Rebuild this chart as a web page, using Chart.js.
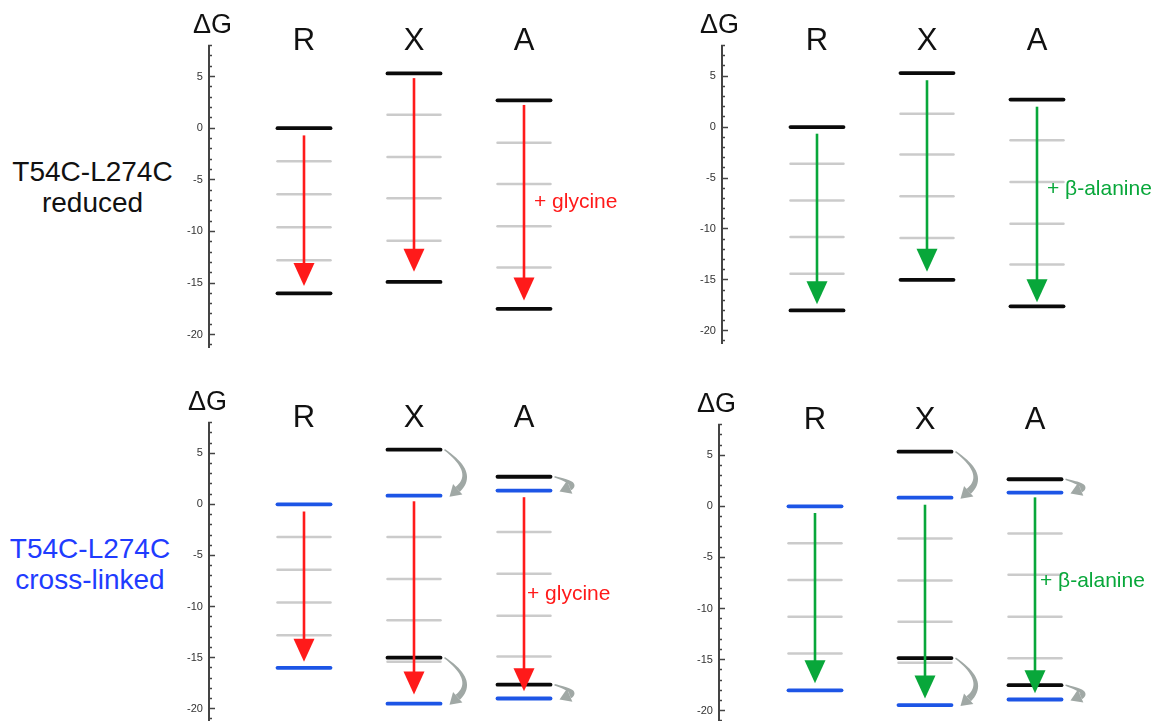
<!DOCTYPE html>
<html>
<head>
<meta charset="utf-8">
<script src="https://cdn.jsdelivr.net/npm/chart.js@4.4.1/dist/chart.umd.min.js"></script>
<style>
  html, body { margin: 0; padding: 0; background: #fff; overflow: hidden; }
  body { width: 1161px; height: 721px; position: relative; font-family: "Liberation Sans", Arial, sans-serif; }
  canvas { position: absolute; }
  .rowlabel { position: absolute; left: 0; font-size: 28px; line-height: 31px; text-align: center; white-space: nowrap; }
</style>
</head>
<body>
<div class="rowlabel" style="top:155.5px;width:185px;color:#111;">T54C-L274C<br>reduced</div>
<div class="rowlabel" style="top:533px;width:180px;color:#1f3cff;">T54C-L274C<br>cross-linked</div>
<canvas id="glyRed"></canvas>
<canvas id="alaRed"></canvas>
<canvas id="glyXl"></canvas>
<canvas id="alaXl"></canvas>
<script>
const states = ['R', 'X', 'A'];
const yTickLabels = [5, 0, -5, -10, -15, -20];
const yMin = -21.2;
const yMax = 8;

// glycine, reduced (black levels)
const glyRedTop = [0, 5.3, 2.7];
const glyRedBottom = [-16.0, -14.9, -17.5];
const glyRedGrey = [[-3.2, -6.4, -9.6, -12.8], [1.3, -2.8, -6.8, -10.9], [-1.4, -5.4, -9.5, -13.5]];
const glyRedArrowFrom = [-0.7, 4.85, 2.25];
const glyRedArrowTo = [-15.3, -13.9, -16.7];

// beta-alanine, reduced
const alaRedTop = [0, 5.3, 2.7];
const alaRedBottom = [-18.0, -15.0, -17.6];
const alaRedGrey = [[-3.6, -7.2, -10.8, -14.4], [1.3, -2.7, -6.8, -10.9], [-1.3, -5.4, -9.5, -13.5]];
const alaRedArrowFrom = [-0.65, 4.6, 2.0];
const alaRedArrowTo = [-17.4, -14.2, -17.2];

// glycine, cross-linked (black = reduced reference, blue = cross-linked)
const glyXlRefTop = [null, 5.35, 2.7];
const glyXlRefBottom = [null, -15.0, -17.65];
const glyXlTop = [0, 0.85, 1.35];
const glyXlBottom = [-16.0, -19.5, -19.0];
const glyXlGrey = [[-3.2, -6.4, -9.6, -12.8], [-3.2, -7.3, -11.35, -15.4], [-2.7, -6.8, -10.9, -14.9]];
const glyXlArrowFrom = [-0.7, 0.3, 0.7];
const glyXlArrowTo = [-15.4, -18.6, -18.3];

// beta-alanine, cross-linked
const alaXlRefTop = [null, 5.35, 2.65];
const alaXlRefBottom = [null, -14.85, -17.5];
const alaXlTop = [0, 0.85, 1.35];
const alaXlBottom = [-18.0, -19.45, -18.9];
const alaXlGrey = [[-3.6, -7.2, -10.8, -14.4], [-3.15, -7.25, -11.3, -15.3], [-2.66, -6.7, -10.8, -14.86]];
const alaXlArrowFrom = [-0.65, 0.16, 0.88];
const alaXlArrowTo = [-17.3, -18.8, -18.3];

const FONT = '"Liberation Sans", Arial, sans-serif';
const RED = '#ff1a1a';
const GREEN = '#08a73a';
const BLUE = '#1d55e6';
const BLACK = '#0a0a0a';
const GREY = '#cbcbcb';
const CURL = '#a0a8a5';
const HALF_BAR = 0.241;
const PX_PER_STATE = 110;
const AXIS_IN = 59; // canvas x of the y axis line

function levelSets(values, color, width) {
  const out = [];
  values.forEach((v, i) => {
    if (v === null) return;
    out.push({
      data: [{ x: i - HALF_BAR, y: v }, { x: i + HALF_BAR, y: v }],
      showLine: true, borderColor: color, borderWidth: width,
      borderCapStyle: 'round', pointRadius: 0, tension: 0
    });
  });
  return out;
}

function drawArrow(ctx, px, y0, y1, color) {
  ctx.strokeStyle = color;
  ctx.lineWidth = 2.6;
  ctx.beginPath();
  ctx.moveTo(px, y0);
  ctx.lineTo(px, y1 - 20);
  ctx.stroke();
  ctx.fillStyle = color;
  ctx.beginPath();
  ctx.moveTo(px - 10.5, y1 - 23);
  ctx.lineTo(px + 10.5, y1 - 23);
  ctx.lineTo(px, y1);
  ctx.closePath();
  ctx.fill();
}

// grey hook from the reduced level down to the cross-linked one
function drawCurl(ctx, x0, ya, yb) {
  const bulge = 10 + (yb - ya) * 0.13;
  const cx = x0 + 2 * bulge, cy = (ya + yb) / 2;
  const tipX = x0 + 5, tipY = yb + 1;
  let dx = tipX - cx, dy = tipY - cy;
  const len = Math.hypot(dx, dy);
  dx /= len; dy /= len;
  const headLen = 11, headHalf = 7;
  const ex = tipX - dx * headLen, ey = tipY - dy * headLen;
  const left = [], right = [];
  for (let k = 0; k <= 20; k++) {
    const t = k / 20;
    const px = (1 - t) * (1 - t) * x0 + 2 * (1 - t) * t * cx + t * t * ex;
    const py = (1 - t) * (1 - t) * ya + 2 * (1 - t) * t * cy + t * t * ey;
    const tx = 2 * (1 - t) * (cx - x0) + 2 * t * (ex - cx);
    const ty = 2 * (1 - t) * (cy - ya) + 2 * t * (ey - cy);
    const tl = Math.hypot(tx, ty) || 1;
    const w = 0.7 + 2.6 * t;
    left.push([px - ty / tl * w, py + tx / tl * w]);
    right.push([px + ty / tl * w, py - tx / tl * w]);
  }
  ctx.fillStyle = CURL;
  ctx.beginPath();
  left.forEach(([a, b], k) => k ? ctx.lineTo(a, b) : ctx.moveTo(a, b));
  right.reverse().forEach(([a, b]) => ctx.lineTo(a, b));
  ctx.closePath();
  ctx.fill();
  ctx.beginPath();
  ctx.moveTo(tipX, tipY);
  ctx.lineTo(ex - dy * headHalf, ey + dx * headHalf);
  ctx.lineTo(ex + dy * headHalf, ey - dx * headHalf);
  ctx.closePath();
  ctx.fill();
}

const energyArrows = {
  id: 'energyArrows',
  afterDatasetsDraw(chart, args, opts) {
    const { ctx, scales: { x, y } } = chart;
    ctx.save();
    (opts.shifts || []).forEach(s => {
      drawCurl(ctx, x.getPixelForValue(s.state + HALF_BAR) + 4,
        y.getPixelForValue(s.from), y.getPixelForValue(s.to));
    });
    opts.from.forEach((f, i) => {
      drawArrow(ctx, x.getPixelForValue(i), y.getPixelForValue(f), y.getPixelForValue(opts.to[i]), opts.color);
    });
    ctx.fillStyle = opts.color;
    ctx.font = '21px ' + FONT;
    ctx.textAlign = 'left';
    ctx.textBaseline = 'middle';
    ctx.fillText(opts.label, x.getPixelForValue(opts.labelState) + opts.labelDx, y.getPixelForValue(opts.labelValue));
    ctx.restore();
  }
};

function makePanel(id, p) {
  const canvas = document.getElementById(id);
  const areaTop = 45;
  const canvasTop = p.zeroY - yMax * p.ppu - areaTop;
  const canvasLeft = p.axisX - AXIS_IN;
  const height = Math.round(areaTop + (yMax - yMin) * p.ppu + 4);
  canvas.width = p.width;
  canvas.height = height;
  canvas.style.left = canvasLeft + 'px';
  canvas.style.top = canvasTop + 'px';
  const xMin = -p.rOffset / PX_PER_STATE;
  const xMax = xMin + (p.width - AXIS_IN) / PX_PER_STATE;

  const datasets = [];
  if (p.refTop) datasets.push(...levelSets(p.refTop, BLACK, 3.8), ...levelSets(p.refBottom, BLACK, 3.8));
  datasets.push(...levelSets(p.top, p.levelColor, 3.8), ...levelSets(p.bottom, p.levelColor, 3.8));
  p.grey.forEach((vals, i) => {
    vals.forEach(v => {
      const g = new Array(states.length).fill(null);
      g[i] = v;
      datasets.push(...levelSets(g, GREY, 2.5));
    });
  });

  const shifts = [];
  if (p.refTop) {
    p.refTop.forEach((v, i) => {
      if (v === null) return;
      shifts.push({ state: i, from: v, to: p.top[i] });
      shifts.push({ state: i, from: p.refBottom[i], to: p.bottom[i] });
    });
  }

  return new Chart(canvas, {
    type: 'scatter',
    data: { datasets },
    plugins: [energyArrows],
    options: {
      responsive: false,
      animation: false,
      events: [],
      layout: { padding: { left: AXIS_IN - p.titleOffset, top: 0, right: 0, bottom: 4 } },
      scales: {
        x: {
          type: 'linear', position: 'top', min: xMin, max: xMax, bounds: 'data',
          grid: { display: false, drawTicks: false },
          border: { display: false },
          afterBuildTicks: s => { s.ticks = states.map((_, i) => ({ value: i })); },
          afterFit: s => { s.height = 3.6; s.paddingLeft = 0; s.paddingRight = 0; },
          ticks: {
            callback: v => states[v], autoSkip: false, maxRotation: 0, mirror: true,
            font: { family: FONT, size: 31 }, color: '#111', padding: -22.3
          }
        },
        y: {
          type: 'linear', position: 'left', min: yMin, max: yMax, bounds: 'data',
          afterBuildTicks: s => {
            const t = [];
            for (let v = Math.ceil(yMin); v <= yMax; v++) t.push({ value: v });
            s.ticks = t;
          },
          afterFit: s => { s.width = p.titleOffset; s.paddingTop = 0; s.paddingBottom = 0; },
          grid: {
            drawOnChartArea: false, drawTicks: true, tickLength: -6,
            tickColor: '#444', tickWidth: 1.5,
            tickBorderDash: c => (c.tick && yTickLabels.includes(c.tick.value)) ? [] : [0, 3, 4, 20]
          },
          border: { display: true, color: '#444', width: 2 },
          ticks: {
            autoSkip: false, mirror: true, crossAlign: 'far', padding: -22, color: '#333',
            font: { family: FONT, size: 11 },
            callback: v => yTickLabels.includes(v) ? String(v) : ''
          }
        }
      },
      plugins: {
        legend: { display: false },
        tooltip: { enabled: false },
        title: {
          display: true, text: 'ΔG', align: 'start', color: '#111',
          font: { family: FONT, size: 27, weight: 'normal' },
          padding: { top: 9.6, bottom: 0 }
        },
        energyArrows: {
          from: p.arrowFrom, to: p.arrowTo, color: p.arrowColor, shifts,
          label: p.label, labelState: 2, labelValue: p.labelValue, labelDx: p.labelDx
        }
      }
    }
  });
}

makePanel('glyRed', {
  axisX: 209, zeroY: 127.7, ppu: 10.33, width: 510, rOffset: 95, titleOffset: 16,
  top: glyRedTop, bottom: glyRedBottom, levelColor: BLACK, grey: glyRedGrey,
  arrowFrom: glyRedArrowFrom, arrowTo: glyRedArrowTo, arrowColor: RED,
  label: '+ glycine', labelValue: -7.2, labelDx: 10
});
makePanel('alaRed', {
  axisX: 722, zeroY: 126.7, ppu: 10.2, width: 498, rOffset: 95, titleOffset: 22,
  top: alaRedTop, bottom: alaRedBottom, levelColor: BLACK, grey: alaRedGrey,
  arrowFrom: alaRedArrowFrom, arrowTo: alaRedArrowTo, arrowColor: GREEN,
  label: '+ β-alanine', labelValue: -6.1, labelDx: 10
});
makePanel('glyXl', {
  axisX: 209, zeroY: 504.3, ppu: 10.25, width: 510, rOffset: 95, titleOffset: 21,
  refTop: glyXlRefTop, refBottom: glyXlRefBottom,
  top: glyXlTop, bottom: glyXlBottom, levelColor: BLUE, grey: glyXlGrey,
  arrowFrom: glyXlArrowFrom, arrowTo: glyXlArrowTo, arrowColor: RED,
  label: '+ glycine', labelValue: -8.8, labelDx: 3
});
makePanel('alaXl', {
  axisX: 719, zeroY: 505.7, ppu: 10.25, width: 501, rOffset: 96, titleOffset: 22,
  refTop: alaXlRefTop, refBottom: alaXlRefBottom,
  top: alaXlTop, bottom: alaXlBottom, levelColor: BLUE, grey: alaXlGrey,
  arrowFrom: alaXlArrowFrom, arrowTo: alaXlArrowTo, arrowColor: GREEN,
  label: '+ β-alanine', labelValue: -7.3, labelDx: 5
});
</script>
</body>
</html>
